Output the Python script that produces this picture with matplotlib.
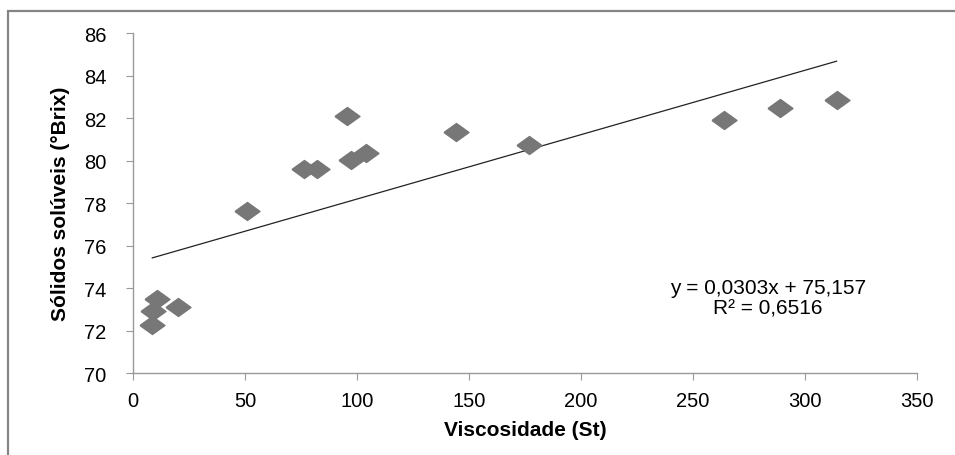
"""
Scatter of soluble solids against viscosity with a linear trendline.
"""

import matplotlib
import matplotlib.pyplot as plt
from matplotlib.patches import Rectangle

matplotlib.use('Agg')

viscosidade = [8.6, 9.1, 10.9, 20.0, 50.7, 76.3, 82.3, 95.7, 97.3, 103.9,
               144.1, 176.8, 263.8, 288.8, 314.1]
solidos = [72.27, 72.93, 73.48, 73.09, 77.62, 79.60, 79.58, 82.08, 80.04,
           80.35, 81.33, 80.74, 81.89, 82.47, 82.85]

slope = 0.0303
intercept = 75.157
trend_x = [8.6, 314.1]

x_ticks = [0, 50, 100, 150, 200, 250, 300, 350]
y_ticks = [70, 72, 74, 76, 78, 80, 82, 84, 86]


def plot_chart():
    plt.rcParams['font.family'] = ['Liberation Sans', 'DejaVu Sans']
    fig = plt.figure(figsize=(9.55, 4.56), dpi=100)
    ax = fig.add_axes([0.1393, 0.1798, 0.8209, 0.7456])

    # outer frame (only top and left edges visible)
    fig.patches.append(Rectangle((8 / 955, -0.1), 1.2, 1.1 - 12 / 456,
                                 transform=fig.transFigure, fill=False,
                                 edgecolor='#858585', linewidth=1.6))

    diamond = [(-1, 0), (0, 0.72), (1, 0), (0, -0.72), (-1, 0)]
    ax.plot(viscosidade, solidos, linestyle='none', marker=diamond,
            markersize=18, color='#777777', zorder=3)

    trend_y = [slope * x + intercept for x in trend_x]
    ax.plot(trend_x, trend_y, color='#222222', linewidth=0.9, zorder=2)

    ax.text(283.5, 73.55, "y = 0,0303x + 75,157\nR² = 0,6516",
            ha='center', va='center', fontsize=15, linespacing=1.1)

    ax.set_xlim(0, 350)
    ax.set_ylim(70, 86)
    ax.set_xticks(x_ticks)
    ax.set_yticks(y_ticks)
    ax.tick_params(labelsize=14.5, color='#999999', length=5)
    ax.tick_params(axis='y', pad=14)
    ax.tick_params(axis='x', pad=8)
    for side in ['top', 'right']:
        ax.spines[side].set_visible(False)
    for side in ['left', 'bottom']:
        ax.spines[side].set_color('#999999')
        ax.spines[side].set_linewidth(1.0)

    ax.set_xlabel("Viscosidade (St)", fontsize=15, fontweight='bold',
                  labelpad=7)
    ax.set_ylabel("Sólidos solúveis (°Brix)", fontsize=15,
                  fontweight='bold', labelpad=10)

    fig.savefig("out.png", dpi=100)


if __name__ == "__main__":
    plot_chart()
